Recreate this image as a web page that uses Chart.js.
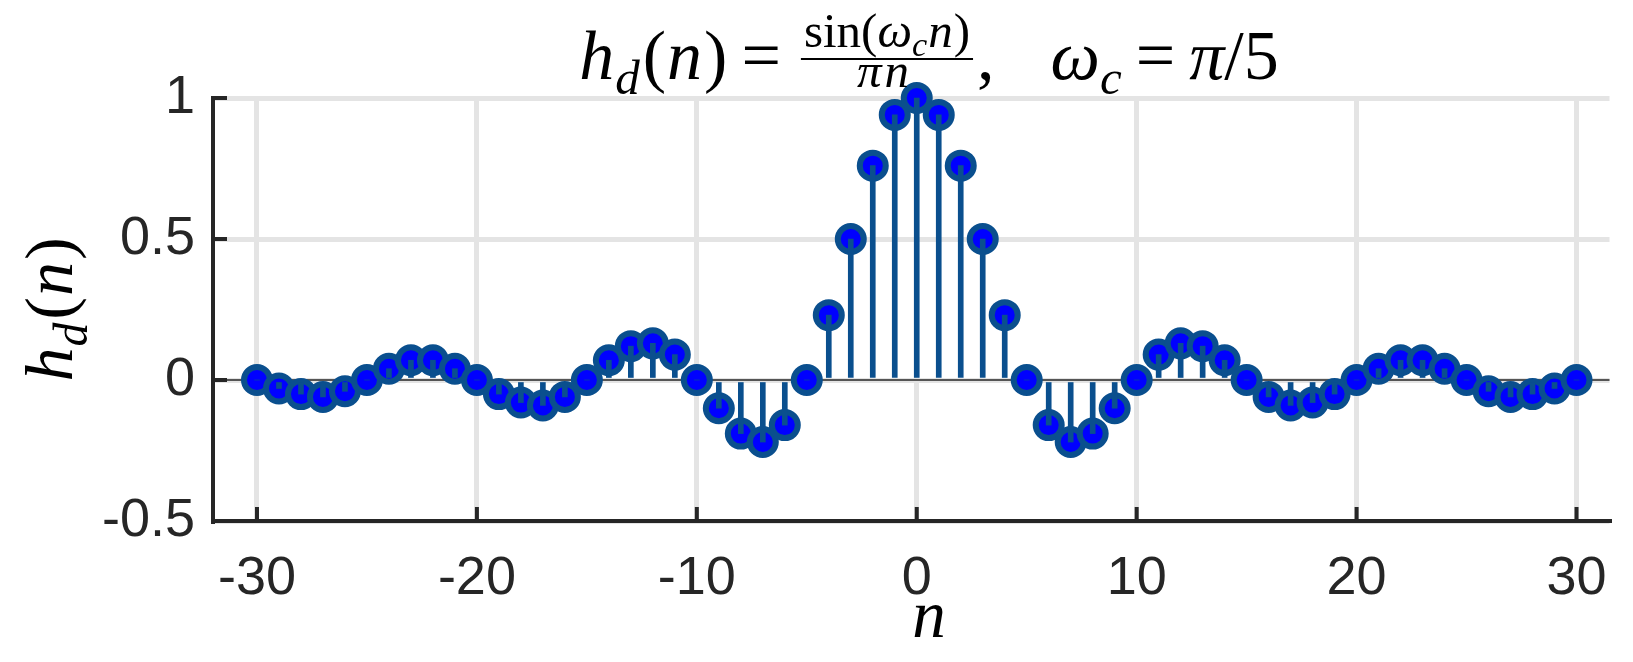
<!DOCTYPE html>
<html>
<head>
<title>h_d(n) stem plot</title>
<script src="https://cdn.jsdelivr.net/npm/chart.js@4.4.0/dist/chart.umd.min.js"></script>
<style>
  html, body { margin: 0; padding: 0; background: #fff; }
  .chart-box { position: relative; width: 1633px; height: 662px; }
</style>
</head>
<body>
<div class="chart-box"><canvas id="stemChart"></canvas></div>
<script>
const nValues = [-30,-29,-28,-27,-26,-25,-24,-23,-22,-21,-20,-19,-18,-17,-16,-15,-14,-13,-12,-11,-10,-9,-8,-7,-6,-5,-4,-3,-2,-1,
                 0,1,2,3,4,5,6,7,8,9,10,11,12,13,14,15,16,17,18,19,20,21,22,23,24,25,26,27,28,29,30];
const hValues = [0,-0.03,-0.05,-0.06,-0.04,0,0.04,0.07,0.07,0.04,0,-0.05,-0.08,-0.09,-0.06,0,0.07,0.12,0.13,0.09,0,-0.10,-0.19,-0.22,-0.16,0,0.23,0.50,0.76,0.94,
                 1,0.94,0.76,0.50,0.23,0,-0.16,-0.22,-0.19,-0.10,0,0.09,0.13,0.12,0.07,0,-0.06,-0.09,-0.08,-0.05,0,0.04,0.07,0.07,0.04,0,-0.04,-0.06,-0.05,-0.03,0];
const xTickValues = [-30,-20,-10,0,10,20,30];
const xTickLabels = ['-30','-20','-10','0','10','20','30'];
const yTickValues = [-0.5,0,0.5,1];
const yTickLabels = ['-0.5','0','0.5','1'];

const points = nValues.map((n, i) => ({x: n, y: hValues[i]}));

const stemColor = '#0a4f8e';
const inkColor = '#262626';
const mathFont = '"Liberation Serif", "Times New Roman", serif';

// draws a run of math pieces: [text, size, italic, dy, extra advance]
function mathRun(ctx, parts, x, y, measureOnly) {
    let cx = x;
    parts.forEach(p => {
        ctx.font = (p[2] ? 'italic ' : '') + p[1] + 'px ' + mathFont;
        if (!measureOnly) ctx.fillText(p[0], cx, y + (p[3] || 0));
        cx += ctx.measureText(p[0]).width + (p[4] || 0);
    });
    return cx - x;
}

function hdParts(S) {
    return [['h', S, 1, 0, 1], ['d', 0.7 * S, 1, 0.22 * S, 3], ['(', S, 0, 0, 1], ['n', S, 1, 0, 2], [')', S, 0]];
}

const S = 70;
const F = 49;
const titleLeft = hdParts(S).concat([['\u2009=\u2009', S, 0, 0, 6]]);
const fracNum = [['sin', F, 0], ['(', F, 0], ['\u03c9', F, 1], ['c', 0.7 * F, 1, 0.18 * F, 1], ['n', F, 1, 0, 1], [')', F, 0]];
const fracDen = [['\u03c0', F, 1, 0, 3], ['n', F, 1]];
const titleRight = [[',', S, 0, 0, 56], ['\u03c9', S, 1], ['c', 0.7 * S, 1, 0.22 * S], ['\u2009=\u2009', S, 0], ['\u03c0', S, 1], ['/5', S, 0]];

const decorPlugin = {
    id: 'decor',
    beforeDatasetsDraw(chart) {
        const ctx = chart.ctx, a = chart.chartArea;
        const y0 = chart.scales.y.getPixelForValue(0);
        ctx.save();
        ctx.strokeStyle = '#555555';
        ctx.lineWidth = 2;
        ctx.beginPath();
        ctx.moveTo(a.left, y0);
        ctx.lineTo(a.right, y0);
        ctx.stroke();
        ctx.restore();
    },
    afterDraw(chart) {
        const ctx = chart.ctx, a = chart.chartArea;
        const xs = chart.scales.x, ys = chart.scales.y;
        ctx.save();
        // inward tick marks
        ctx.strokeStyle = inkColor;
        ctx.lineWidth = 4;
        ctx.beginPath();
        yTickValues.forEach(v => {
            const py = ys.getPixelForValue(v);
            ctx.moveTo(a.left, py);
            ctx.lineTo(a.left + 14, py);
        });
        xTickValues.forEach(v => {
            const px = xs.getPixelForValue(v);
            ctx.moveTo(px, a.bottom);
            ctx.lineTo(px, a.bottom - 14);
        });
        ctx.stroke();

        ctx.fillStyle = '#000';
        ctx.textBaseline = 'alphabetic';
        ctx.textAlign = 'left';

        // title
        const cx = 929;
        const base = 79;
        const wL = mathRun(ctx, titleLeft, 0, 0, true);
        const wN = mathRun(ctx, fracNum, 0, 0, true);
        const wD = mathRun(ctx, fracDen, 0, 0, true);
        const wR = mathRun(ctx, titleRight, 0, 0, true);
        const fw = Math.max(wN, wD) + 6;
        const total = wL + fw + 4 + wR;
        let x = cx - total / 2;
        mathRun(ctx, titleLeft, x, base);
        x += wL;
        const barY = base - 20;
        ctx.fillRect(x, barY - 1, fw, 2);
        mathRun(ctx, fracNum, x + (fw - wN) / 2, barY - 12);
        mathRun(ctx, fracDen, x + (fw - wD) / 2 - 4, barY + 28);
        x += fw + 4;
        mathRun(ctx, titleRight, x, base);

        // y axis label
        ctx.save();
        ctx.translate(72, (a.top + a.bottom) / 2);
        ctx.rotate(-Math.PI / 2);
        const yl = hdParts(68);
        const wY = mathRun(ctx, yl, 0, 0, true);
        mathRun(ctx, yl, -wY / 2, 0);
        ctx.restore();

        // x axis label
        const nPart = [['n', 67, 1]];
        const wX = mathRun(ctx, nPart, 0, 0, true);
        mathRun(ctx, nPart, cx - wX / 2, 637);
        ctx.restore();
    }
};

const ctx = document.getElementById('stemChart').getContext('2d');
new Chart(ctx, {
    type: 'scatter',
    data: {
        datasets: [{
            type: 'bar',
            data: points,
            barThickness: 5,
            backgroundColor: stemColor,
            borderWidth: 0,
            order: 0,
            clip: false
        }, {
            type: 'scatter',
            data: points,
            pointRadius: 13,
            pointBorderWidth: 6,
            pointBackgroundColor: '#0000ff',
            pointBorderColor: stemColor,
            order: 1,
            clip: false
        }]
    },
    options: {
        responsive: true,
        maintainAspectRatio: false,
        animation: false,
        layout: { padding: { top: 98, right: 0, bottom: 0, left: 0 } },
        plugins: { legend: { display: false }, tooltip: { enabled: false } },
        scales: {
            x: {
                type: 'linear',
                min: -32,
                max: 31.5,
                offset: false,
                afterBuildTicks: s => { s.ticks = xTickValues.map(v => ({value: v})); },
                afterFit: s => { s.height = 141; },
                grid: { color: '#e4e4e4', lineWidth: 5, drawTicks: false, offset: false },
                border: { color: inkColor, width: 4 },
                ticks: {
                    padding: 26,
                    color: inkColor,
                    font: { family: '"Liberation Sans", Arial, sans-serif', size: 54 },
                    maxRotation: 0,
                    callback: (v, i) => xTickLabels[i]
                }
            },
            y: {
                type: 'linear',
                min: -0.5,
                max: 1,
                afterBuildTicks: s => { s.ticks = yTickValues.map(v => ({value: v})); },
                afterFit: s => { s.width = 213; },
                grid: { color: '#e4e4e4', lineWidth: 5, drawTicks: false },
                border: { color: inkColor, width: 4 },
                ticks: {
                    padding: 18,
                    color: inkColor,
                    font: { family: '"Liberation Sans", Arial, sans-serif', size: 54 },
                    callback: (v, i) => yTickLabels[i]
                }
            }
        }
    },
    plugins: [decorPlugin]
});
</script>
</body>
</html>
